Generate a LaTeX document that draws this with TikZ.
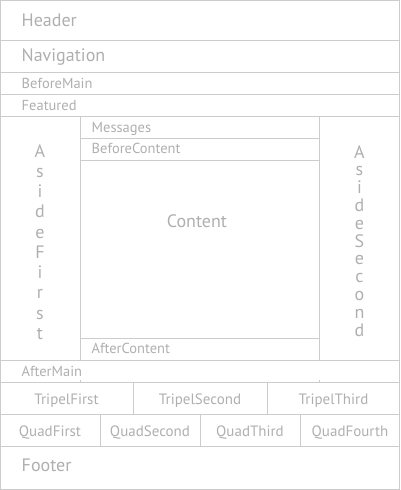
\documentclass[tikz,border=0pt]{standalone}
\usepackage{fontspec}
\setmainfont{PT Sans}
\definecolor{lineGray}{HTML}{CCCCCC}
\definecolor{textGray}{HTML}{AFAFAF}
\tikzset{
  region/.style={draw=lineGray, line width=1pt},
  bigLabel/.style={text=textGray, inner sep=0pt, anchor=base west, font=\fontsize{18}{18}\selectfont},
  smallLabel/.style={text=textGray, inner sep=0pt, anchor=base west, font=\fontsize{14.5}{14.5}\selectfont},
  cellLabel/.style={text=textGray, inner sep=0pt, anchor=base, font=\fontsize{15}{15}\selectfont},
  asideLetter/.style={text=textGray, inner sep=0pt, anchor=base, font=\fontsize{18}{18}\selectfont}
}
\begin{document}
\begin{tikzpicture}[x=1pt, y=-1pt]
    \useasboundingbox (0,0) rectangle (400,490);

    % rows over the full width
    \foreach \row in {40,72,94,116,360,382,414,446}
        \draw[region] (0,\row+0.5) -- (400,\row+0.5);

    % main area: asides and content rows
    \draw[region] (80.5,116) -- (80.5,360);
    \draw[region] (319.5,116) -- (319.5,360);
    \foreach \row in {138,160,338}
        \draw[region] (80.5,\row+0.5) -- (319.5,\row+0.5);
    \draw[region] (80.5,380) -- (80.5,382);
    \draw[region] (319.5,380) -- (319.5,382);

    % tripel and quad cells
    \foreach \col in {133,267}
        \draw[region] (\col+0.5,382) -- (\col+0.5,414);
    \foreach \col in {100,200,300}
        \draw[region] (\col+0.5,414) -- (\col+0.5,446);

    \draw[region] (0.5,0.5) rectangle (399.5,489.5);

    \node[bigLabel] (header) at (21.5,26.7) {Header};
    \node[bigLabel] (navigation) at (21.5,61.7) {Navigation};
    \node[smallLabel] (beforeMain) at (21.5,88) {BeforeMain};
    \node[smallLabel] (featured) at (21.5,110) {Featured};
    \node[smallLabel] (messages) at (91.5,132.7) {Messages};
    \node[smallLabel] (beforeContent) at (91.5,153.3) {BeforeContent};
    \node[bigLabel, anchor=base] (content) at (197,227) {Content};
    \node[smallLabel] (afterContent) at (91.5,353.3) {AfterContent};
    \node[smallLabel] (afterMain) at (21.5,376.7) {AfterMain};

    \node[cellLabel] (tripelFirst) at (66.5,404) {TripelFirst};
    \node[cellLabel] (tripelSecond) at (200,404) {TripelSecond};
    \node[cellLabel] (tripelThird) at (333.5,404) {TripelThird};

    \node[cellLabel] (quadFirst) at (50,436) {QuadFirst};
    \node[cellLabel] (quadSecond) at (150,436) {QuadSecond};
    \node[cellLabel] (quadThird) at (250,436) {QuadThird};
    \node[cellLabel] (quadFourth) at (350,436) {QuadFourth};

    \node[bigLabel] (footer) at (21.5,471.7) {Footer};

    % aside texts, one letter per line
    \foreach \letter [count=\i from 0] in {A,s,i,d,e,F,i,r,s,t}
        \node[asideLetter] (asideFirst\i) at (40,157+20.25*\i) {\letter};
    \foreach \letter [count=\i from 0] in {A,s,i,d,e,S,e,c,o,n,d}
        \node[asideLetter] (asideSecond\i) at (359.5,158+17.8*\i) {\letter};
\end{tikzpicture}
\end{document}
